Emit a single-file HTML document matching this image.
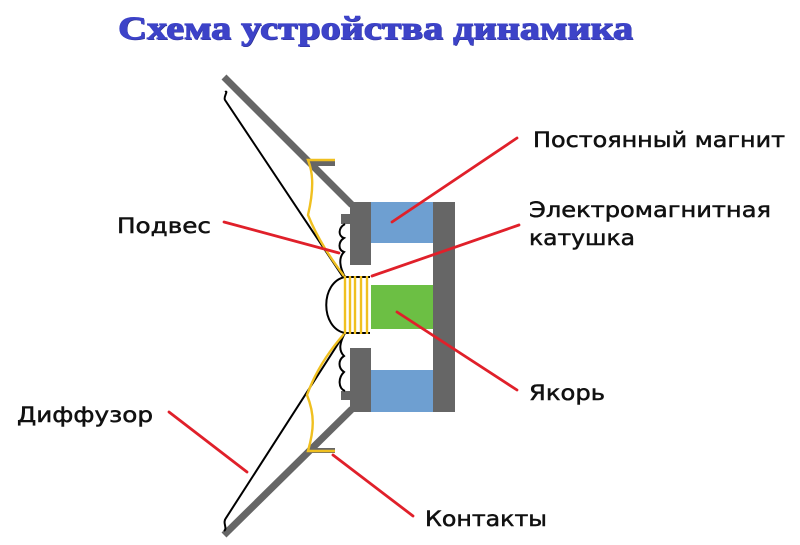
<!DOCTYPE html>
<html><head><meta charset="utf-8"><style>
html,body{margin:0;padding:0;background:#fff;}
svg{display:block;}
</style></head><body>
<svg width="800" height="545" viewBox="0 0 800 545" xmlns="http://www.w3.org/2000/svg">
<text x="119" y="40" font-family="Liberation Serif, serif" font-weight="bold" font-size="33" fill="#2a2f90" textLength="515" lengthAdjust="spacingAndGlyphs">Схема устройства динамика</text>
<text x="118" y="39" font-family="Liberation Serif, serif" font-weight="bold" font-size="33" fill="#3d43c8" stroke="#3d43c8" stroke-width="1" textLength="515" lengthAdjust="spacingAndGlyphs">Схема устройства динамика</text>

<line x1="224" y1="77" x2="352" y2="205" stroke="#666" stroke-width="7"/>
<line x1="224" y1="535" x2="352" y2="409" stroke="#666" stroke-width="7"/>
<rect x="310" y="161" width="25" height="5" fill="#666"/>
<rect x="310" y="448" width="25" height="5" fill="#666"/>

<rect x="371" y="202" width="62" height="41" fill="#6e9fd1"/>
<rect x="371" y="370" width="62" height="42" fill="#6e9fd1"/>
<rect x="371" y="285" width="62" height="44" fill="#6cbf44"/>
<rect x="350" y="202" width="21" height="63" fill="#666"/>
<rect x="341" y="214" width="10" height="10" fill="#666"/>
<rect x="350" y="348" width="21" height="64" fill="#666"/>
<rect x="341" y="391" width="10" height="9" fill="#666"/>
<rect x="433" y="202" width="22" height="210" fill="#666"/>

<g fill="none" stroke="#000" stroke-width="2">
<path d="M225 92 C229 90 223 97 225 100 L343 277"/>
<path d="M345 333 L226 518 C222 523 228 528 224 531"/>
<path d="M345 224 C338 228 338 236 344 238 C338 242 338 250 344 252 C338 258 340 268 345 277"/>
<path d="M345 333 C340 342 338 350 344 356 C338 360 338 368 344 372 C338 378 338 388 345 391"/>
<path d="M345 277 C320 282 320 328 345 333"/>
<line x1="343" y1="277" x2="370" y2="277"/>
<line x1="343" y1="333" x2="370" y2="333"/>
</g>

<path d="M335 160 L308 160 C312 170 315 185 308 215 C318 240 332 260 344 276" fill="none" stroke="#f0c020" stroke-width="2.4"/>
<path d="M335 451 L308 451 C314 430 315 415 307 395 C316 370 330 350 344 334" fill="none" stroke="#f0c020" stroke-width="2.4"/>
<g stroke="#f0c020" stroke-width="2.4">
<line x1="345" y1="276" x2="345" y2="334"/>
<line x1="350" y1="276" x2="350" y2="334"/>
<line x1="355" y1="276" x2="355" y2="334"/>
<line x1="361" y1="276" x2="361" y2="334"/>
<line x1="367" y1="276" x2="367" y2="334"/>
</g>

<g stroke="#e0202a" stroke-width="2.8" stroke-linecap="round">
<line x1="517" y1="138" x2="392" y2="222"/>
<line x1="519" y1="225" x2="372" y2="276"/>
<line x1="224" y1="222" x2="339" y2="253"/>
<line x1="517" y1="390" x2="397" y2="312"/>
<line x1="169" y1="412" x2="247" y2="472"/>
<line x1="413" y1="516" x2="333" y2="455"/>
</g>

<g font-family="DejaVu Sans, sans-serif" font-size="21" fill="#111" stroke="#111" stroke-width="0.5">
<text x="533" y="147" textLength="252" lengthAdjust="spacingAndGlyphs">Постоянный магнит</text>
<text x="529" y="217" textLength="242" lengthAdjust="spacingAndGlyphs">Электромагнитная</text>
<text x="529" y="245" textLength="106" lengthAdjust="spacingAndGlyphs">катушка</text>
<text x="117" y="233" textLength="94" lengthAdjust="spacingAndGlyphs">Подвес</text>
<text x="17" y="422" textLength="136" lengthAdjust="spacingAndGlyphs">Диффузор</text>
<text x="529" y="400" textLength="76" lengthAdjust="spacingAndGlyphs">Якорь</text>
<text x="425" y="526" textLength="122" lengthAdjust="spacingAndGlyphs">Контакты</text>
</g>
</svg>
</body></html>
